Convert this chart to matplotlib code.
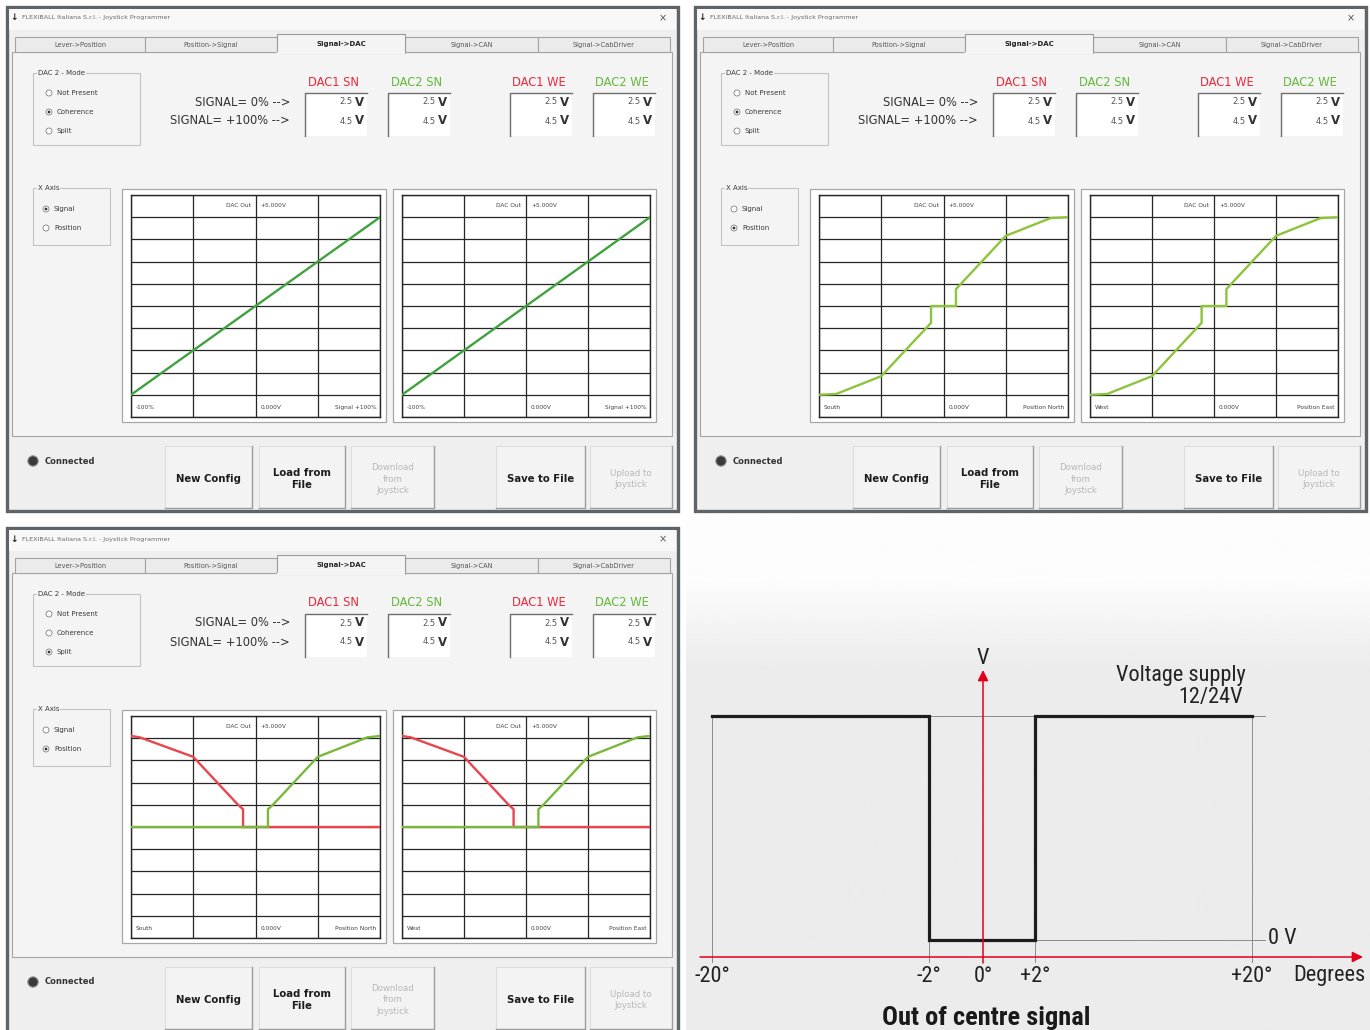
import numpy as np
import matplotlib
matplotlib.use("Agg")
import matplotlib.pyplot as plt
from matplotlib.patches import Rectangle, Circle

# ---- data ----
window_title = "FLEXIBALL Italiana S.r.l. - Joystick Programmer"
tab_names = ["Lever->Position", "Position->Signal", "Signal->DAC", "Signal->CAN", "Signal->CabDriver"]
mode_options = ["Not Present", "Coherence", "Split"]
axis_options = ["Signal", "Position"]
dac_names = ["DAC1 SN", "DAC2 SN", "DAC1 WE", "DAC2 WE"]
dac_v_zero = [2.5, 2.5, 2.5, 2.5]
dac_v_full = [4.5, 4.5, 4.5, 4.5]
button_names = ["New Config", "Load from\nFile", "Download\nfrom\nJoystick", "Save to File", "Upload to\nJoystick"]
button_enabled = [True, True, False, True, False]

# DAC output (V) vs signal (%) - coherence, x axis = signal
sig_pct = [-100, 100]
sig_v = [0.5, 4.5]
# DAC output vs position - coherence
pos_pct = [-100, -86, -50, -13, -10, -10, 10, 10, 13, 50, 86, 100]
pos_v = [0.5, 0.52, 0.92, 2.03, 2.12, 2.5, 2.5, 2.88, 2.97, 4.08, 4.48, 4.5]
# DAC output vs position - split
split1_pct = [-100, -93, -50, -14, -10, -10, 100]
split1_v = [4.55, 4.52, 4.08, 3.0, 2.9, 2.5, 2.5]
split2_pct = [-100, 10, 10, 14, 50, 90, 100]
split2_v = [2.5, 2.5, 2.9, 3.0, 4.08, 4.52, 4.55]

# out of centre signal diagram
deg_ticks = [-20, -2, 0, 2, 20]
deg_labels = ["-20°", "-2°", "0°", "+2°", "+20°"]
out_deg = [-20, -2, -2, 2, 2, 20]
out_level = [1, 1, 0, 0, 1, 1]  # 1 = supply 12/24V, 0 = 0 V

# ---- styles ----
RED_UI = "#e8283a"
GREEN_UI = "#63b83a"
LINE_GREEN = "#3fa23f"
LINE_YG = "#8cc43c"
LINE_RED = "#e8454f"
PANEL = "#f4f4f4"
RED_AX = "#e2001a"
UI_FONT = "DejaVu Sans"
DIAG_FONT = ["Roboto Condensed", "Liberation Sans Narrow", "Roboto", "DejaVu Sans"]

W, H = 1370, 1030
fig = plt.figure(figsize=(W / 100, H / 100), dpi=100)
fig.patch.set_facecolor("white")
cv = fig.add_axes([0, 0, 1, 1])
cv.set_xlim(0, W)
cv.set_ylim(H, 0)
cv.axis("off")


def frac(x0, y0, x1, y1):
    return [x0 / W, 1 - y1 / H, (x1 - x0) / W, (y1 - y0) / H]


def txt(x, y, s, size=5, **kw):
    kw.setdefault("va", "center")
    kw.setdefault("color", "#3a3a3a")
    cv.text(x, y, s, fontsize=size, family=UI_FONT, **kw)


def radio(x, y, label, selected):
    cv.add_patch(Circle((x, y), 3.0, fc="white", ec="#808080", lw=0.6, zorder=4))
    if selected:
        cv.add_patch(Circle((x, y), 1.4, fc="#333333", ec="none", zorder=5))
    txt(x + 8, y, label, size=5, zorder=5)


def group_box(x0, y0, x1, y1, label):
    cv.add_patch(Rectangle((x0, y0), x1 - x0, y1 - y0, fc="none", ec="#c2c2c2", lw=0.8, zorder=3))
    txt(x0 + 5, y0, label, size=5, zorder=5,
        bbox=dict(fc=PANEL, ec="none", pad=0.6))


def chart(x0, y0, x1, y1, series, left_lab, right_lab):
    ax = fig.add_axes(frac(x0, y0, x1, y1))
    ax.set_xlim(-100, 100)
    ax.set_ylim(0, 5)
    ax.set_xticks(np.arange(-100, 101, 50))
    ax.set_yticks(np.arange(0, 5.01, 0.5))
    ax.grid(True, color="#262626", lw=0.9)
    ax.tick_params(length=0, labelbottom=False, labelleft=False)
    for sp in ax.spines.values():
        sp.set_color("#262626")
        sp.set_linewidth(1.0)
    for xs, ys, c in series:
        ax.plot(xs, ys, color=c, lw=1.7, zorder=3, solid_joinstyle="round")
    fs = 4.2
    ax.text(-4, 4.77, "DAC Out", fontsize=fs, ha="right", va="center", color="#444")
    ax.text(4, 4.77, "+5.000V", fontsize=fs, ha="left", va="center", color="#444")
    ax.text(-96, 0.22, left_lab, fontsize=fs, ha="left", va="center", color="#444")
    ax.text(4, 0.22, "0.000V", fontsize=fs, ha="left", va="center", color="#444")
    ax.text(97, 0.22, right_lab, fontsize=fs, ha="right", va="center", color="#444")
    return ax


def draw_window(ox, oy, mode_sel, axis_sel, charts):
    X = lambda v: v + ox
    Y = lambda v: v + oy
    cv.add_patch(Rectangle((X(7), Y(7)), 671, 504, fc="#efefef", ec="#5f6468", lw=2.4, zorder=1))
    cv.add_patch(Rectangle((X(9), Y(9)), 667, 21, fc="#f8f8f8", ec="none", zorder=1.2))
    txt(X(14), Y(18), "↓", size=6.5, ha="center", fontweight="bold", color="#222", zorder=3)
    txt(X(22), Y(18), window_title, size=4.6, color="#6a6a6a", zorder=3)
    txt(X(663), Y(18), "×", size=7, ha="center", color="#555", zorder=3)

    # tab panel
    cv.add_patch(Rectangle((X(12), Y(52)), 660, 384, fc=PANEL, ec="#a6a6a6", lw=0.8, zorder=1.5))
    edges = [15, 145, 277, 405, 538, 670]
    for i, name in enumerate(tab_names):
        a, b = edges[i], edges[i + 1]
        if i == 2:
            cv.add_patch(Rectangle((X(a), Y(34)), b - a, 19, fc=PANEL, ec="#9a9a9a", lw=0.8, zorder=2.5))
            cv.plot([X(a + 1), X(b - 1)], [Y(52.6), Y(52.6)], color=PANEL, lw=1.6, zorder=2.6)
            txt(X((a + b) / 2), Y(44), name, size=5, ha="center", fontweight="bold", color="#222", zorder=3)
        else:
            cv.add_patch(Rectangle((X(a), Y(37)), b - a, 15, fc="#ebebeb", ec="#a3a3a3", lw=0.8, zorder=2))
            txt(X((a + b) / 2), Y(45), name, size=4.8, ha="center", color="#555", zorder=3)

    # DAC 2 mode
    group_box(X(33), Y(73), X(140), Y(145), "DAC 2 - Mode")
    for k, (opt, yy) in enumerate(zip(mode_options, [93, 112, 131])):
        radio(X(49), Y(yy), opt, k == mode_sel)

    txt(X(290), Y(102), "SIGNAL= 0% -->", size=8.3, ha="right", color="#333", zorder=4)
    txt(X(290), Y(121), "SIGNAL= +100% -->", size=8.3, ha="right", color="#333", zorder=4)

    for k, (name, v0, v1) in enumerate(zip(dac_names, dac_v_zero, dac_v_full)):
        bx = [305, 388, 510, 593][k]
        col = RED_UI if k % 2 == 0 else GREEN_UI
        txt(X(bx + 29), Y(82), name, size=8.3, ha="center", color=col, zorder=4)
        cv.add_patch(Rectangle((X(bx), Y(93)), 62, 43, fc="white", ec="none", zorder=3))
        cv.plot([X(bx), X(bx), X(bx + 62)], [Y(136), Y(93), Y(93)], color="#6f6f6f", lw=1.0, zorder=3.5)
        for val, yy in [(v0, 102), (v1, 121)]:
            txt(X(bx + 48), Y(yy), f"{val:.1f}", size=6, ha="right", color="#555", zorder=4)
            txt(X(bx + 50), Y(yy), "V", size=8.5, ha="left", fontweight="bold", color="#333", zorder=4)

    # X axis
    group_box(X(33), Y(188), X(110), Y(245), "X Axis")
    for k, (opt, yy) in enumerate(zip(axis_options, [209, 228])):
        radio(X(46), Y(yy), opt, k == axis_sel)

    # chart frames and charts
    for (fx0, fx1, px0, px1), (series, ll, rl) in zip([(122, 386, 131, 380), (393, 656, 402, 650)], charts):
        cv.add_patch(Rectangle((X(fx0), Y(189)), fx1 - fx0, 233, fc="white", ec="#a8a8a8", lw=0.9, zorder=2))
        chart(X(px0), Y(195), X(px1), Y(417), series, ll, rl)

    # bottom bar
    cv.add_patch(Circle((X(33), Y(461)), 5.2, fc="#3a3a3a", ec="#9a9a9a", lw=0.8, zorder=4))
    txt(X(45), Y(461), "Connected", size=6, fontweight="bold", color="#333", zorder=4)
    for (a, b), name, en in zip([(165, 252), (259, 345), (351, 434), (496, 585), (590, 672)],
                                button_names, button_enabled):
        cv.add_patch(Rectangle((X(a), Y(446)), b - a, 62, fc="#f3f3f3", ec="#d8d8d8", lw=0.6, zorder=2))
        cv.plot([X(b), X(b), X(a)], [Y(446), Y(508), Y(508)], color="#9c9c9c", lw=1.0, zorder=2.2)
        if en:
            txt(X((a + b) / 2), Y(479), name, size=7.3, ha="center", fontweight="bold",
                color="#1c1c1c", linespacing=1.3, zorder=3)
        else:
            txt(X((a + b) / 2), Y(479), name, size=6.2, ha="center", color="#b8b8b8",
                linespacing=1.3, zorder=3)


draw_window(0, 0, 1, 0, [([(sig_pct, sig_v, LINE_GREEN)], "-100%", "Signal +100%"),
                         ([(sig_pct, sig_v, LINE_GREEN)], "-100%", "Signal +100%")])
draw_window(688, 0, 1, 1, [([(pos_pct, pos_v, LINE_YG)], "South", "Position North"),
                           ([(pos_pct, pos_v, LINE_YG)], "West", "Position East")])
split_series = [(split1_pct, split1_v, LINE_RED), (split2_pct, split2_v, "#79b83a")]
draw_window(0, 521, 2, 1, [(split_series, "South", "Position North"),
                           (split_series, "West", "Position East")])

# ---- diagram background ----
rows = np.linspace(0, 1, 256)
shade = np.clip((rows - 0.12) / 0.18, 0, 1)
grad = 0.992 - 0.07 * shade
cv.imshow(np.repeat(grad[:, None], 2, axis=1), cmap="gray", vmin=0, vmax=1,
          extent=[686, W, 1030, 515], aspect="auto", zorder=0.5)
cv.set_xlim(0, W)
cv.set_ylim(H, 0)

# ---- out of centre diagram ----
brk_deg = np.array([-200.0, -20, -2, 0, 2, 20, 200])
brk_px = np.array([712 - 180 * 217 / 18, 712, 929, 983, 1035, 1252, 1252 + 180 * 217 / 18])


def fwd(d):
    return np.interp(d, brk_deg, brk_px)


def inv(p):
    return np.interp(p, brk_px, brk_deg)


def lv(py):
    return (940 - py) / 224


dg = fig.add_axes(frac(690, 640, 1370, 1000))
dg.set_xscale("function", functions=(fwd, inv))
dg.set_xlim(inv(690), inv(1370))
dg.set_ylim(lv(1000), lv(640))
dg.axis("off")

gray = "#8a8a8a"
dg.plot([-20, inv(1265)], [1, 1], color=gray, lw=0.7, zorder=1)
dg.plot([2, inv(1265)], [0, 0], color=gray, lw=0.7, zorder=1)
for d in deg_ticks:
    top = 1 if abs(d) == 20 else 0
    if d != 0:
        dg.plot([d, d], [top, lv(962)], color=gray, lw=0.7, zorder=1)
dg.plot(out_deg, out_level, color="#1c1c1c", lw=2.3, zorder=3, solid_joinstyle="miter")

dg.annotate("", xy=(inv(1363), lv(957)), xytext=(inv(700), lv(957)),
            arrowprops=dict(arrowstyle="-|>", color=RED_AX, lw=1.1, mutation_scale=16,
                            shrinkA=0, shrinkB=0), zorder=4)
dg.annotate("", xy=(0, lv(670)), xytext=(0, lv(963)),
            arrowprops=dict(arrowstyle="-|>", color=RED_AX, lw=1.1, mutation_scale=16,
                            shrinkA=0, shrinkB=0), zorder=4)

dfs = 16
for d, lab in zip(deg_ticks, deg_labels):
    dg.text(d, lv(976), lab, fontsize=dfs, family=DIAG_FONT, ha="center", va="center", color="#222")
dg.text(inv(1293), lv(976), "Degrees", fontsize=dfs, family=DIAG_FONT, ha="left", va="center", color="#222")
dg.text(0, lv(658), "V", fontsize=dfs, family=DIAG_FONT, ha="center", va="center", color="#222")
dg.text(inv(1246), lv(675), "Voltage supply", fontsize=dfs, family=DIAG_FONT, ha="right", va="center", color="#222")
dg.text(inv(1243), lv(698), "12/24V", fontsize=dfs, family=DIAG_FONT, ha="right", va="center", color="#222")
dg.text(inv(1268), lv(938), "0 V", fontsize=dfs, family=DIAG_FONT, ha="left", va="center", color="#222")
fig.text(986 / W, 1 - 1018 / H, "Out of centre signal", fontsize=19, family=DIAG_FONT,
         fontweight="bold", ha="center", va="center", color="#1a1a1a")

fig.savefig("out.png", dpi=100)
